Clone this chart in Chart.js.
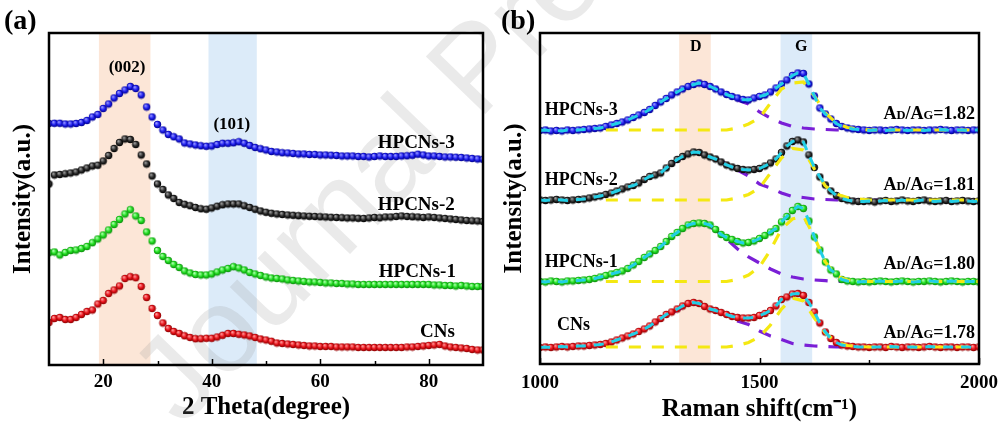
<!DOCTYPE html>
<html>
<head>
<meta charset="utf-8">
<script src="https://cdn.jsdelivr.net/npm/chart.js@4.4.1/dist/chart.umd.min.js"></script>
<style>
  body { margin: 0; background: #fff; }
  #wrap { position: relative; width: 1004px; height: 428px; }
  canvas { position: absolute; top: 0; }
</style>
</head>
<body>
<div id="wrap">
  <canvas id="xrd" width="500" height="428" style="left:0"></canvas>
  <canvas id="raman" width="504" height="428" style="left:500px"></canvas>
</div>
<script>
// ---- XRD patterns, 2 theta 10..90 deg, offset intensities (a.u.) ----
const twoTheta = Array.from({length: 81}, (_, i) => 10 + i);

const xrdCNs = [42.5, 46.5, 47.5, 45.5, 45.5, 47.5, 50.5, 53.5, 55, 61,
  64.5, 71.5, 75, 79, 86.5, 88.3, 87.3, 78.5, 67.5, 56.5,
  49.5, 42, 36.5, 33.5, 31.5, 29.2, 27.5, 26.3, 26.3, 26.7,
  26.7, 28, 29.7, 31.5, 31.5, 30.7, 30, 29, 27.5, 26,
  25, 23.7, 22, 21.5, 21, 20.5, 20, 19.5, 19, 19,
  18.5, 18.5, 18.5, 18, 18, 18, 18, 17.5, 17.5, 17.5,
  17.5, 17.5, 17.5, 17.5, 17.5, 17.5, 18, 18, 18.5, 19,
  19.5, 20, 20.5, 19, 18, 17.5, 17, 16.5, 15.5, 15, 15];

const xrdHPCNs1 = [112.3, 113, 110, 112.5, 114.5, 115, 116.5, 118.5, 122.3, 126,
  130, 135, 140.5, 145.5, 151, 155.3, 149, 144.5, 133, 124,
  114.5, 108.5, 104.5, 100.5, 97.5, 94, 92, 90.5, 90, 90,
  91, 93, 95, 96.5, 98.3, 97, 95, 92.5, 91, 89.5,
  88, 87, 86.5, 86, 85, 84.5, 84, 83.5, 83, 83,
  82.5, 82, 82, 81.5, 81.5, 81, 81, 80.5, 80.5, 80.5,
  80.5, 80.5, 80.5, 80.5, 80.5, 80.5, 80.5, 80.5, 80.5, 80.5,
  80.5, 80, 80, 79.5, 79.5, 79, 79.5, 79, 78.5, 78.5, 78.5];

const xrdHPCNs2 = [181, 190, 190.5, 191.2, 192, 193, 195, 197, 199, 199.8,
  204, 209.5, 216.5, 222.5, 226, 225.5, 220.5, 210, 201, 189,
  181, 175.5, 170, 166.5, 162.5, 160.7, 159.3, 157.5, 156.2, 155.8,
  157, 158.8, 160.2, 161, 161, 161, 159.2, 157.5, 155.7, 154,
  152.7, 151.7, 151, 150.5, 150, 149.7, 149.3, 149, 148.7, 148.5,
  148.2, 148, 147.7, 147.5, 147.3, 147, 147, 146.7, 146.5, 147,
  147.5, 147.2, 148, 148, 148.5, 149, 148.5, 148.2, 148, 147.5,
  148, 147.5, 147, 146.5, 146, 145.5, 145, 144.5, 144.2, 144, 143.5];

const xrdHPCNs3 = [241.5, 241.7, 241.7, 241, 241, 241.5, 242.5, 244.5, 248, 250.5,
  256.5, 261, 267, 271.5, 275, 278.5, 276.5, 270, 258, 248,
  240.5, 235, 230.5, 228.2, 226, 222, 221, 220, 219.2, 218.7,
  219, 220.5, 221.7, 221.7, 222.2, 223.2, 221.7, 219.5, 217.5, 216.2,
  215, 213.5, 213, 212.2, 212, 211.5, 211, 211, 210.5, 210.5,
  210, 210, 209.8, 209.5, 209, 209, 209, 208.5, 208.5, 208,
  208.5, 209, 208.5, 208.5, 208.5, 209, 209.2, 209.8, 210.8, 210,
  209, 209, 208.5, 208, 208, 207.8, 207.5, 207, 206.5, 206, 205.7];

const xrdTicks = [20, 40, 60, 80];
const xrdMinorTicks = [30, 50, 70];

// ---- Raman spectra, 1000..2000 cm-1 ----
const ramanShift = Array.from({length: 81}, (_, i) => 1000 + i * 12.5);

const ramanCNs = [16.5, 17, 16.5, 17, 17.5, 17, 17.5, 18, 18,
  18.5, 19, 19.5, 20.5, 22, 24, 26, 28,
  30, 32.5, 35, 38, 42, 45.5, 49.5, 52, 55, 58, 60.5, 61.5,
  60.5, 57.5, 55, 53.5, 51.5, 49.5, 47.5, 46.5, 46, 46, 46.5, 48.5,
  50.5, 53.5, 58, 64.5, 67, 70, 70.5, 68.5, 61.5, 52, 41, 32, 25.5, 21.5, 19, 18, 17.5, 17,
  17, 16.5, 17, 17, 16.5, 17.5, 17, 16.5, 17, 17, 16.5, 17, 17.5, 17, 16.5, 17, 17, 16.5, 17, 17, 16.5, 17];

const ramanHPCNs1 = [82.5, 82, 83, 82.5, 82, 83, 83, 83.5, 84,
  84.5, 85.5, 87, 88.5, 90, 91.5, 93, 95.5,
  99, 102.5, 106.5, 110, 113.5, 117.5, 122.5, 127.5, 131.5, 135.5, 139, 140.5,
  141, 140.5, 139, 134.5, 129.5, 126.5, 124.5, 122.5, 121, 121.5, 123, 125.5,
  128.5, 132, 135.5, 142, 147.5, 153.5, 157.5, 155.5, 143, 127, 114, 102, 94, 90, 84.5, 83, 82.5, 82,
  82.5, 82, 82.5, 83, 82.5, 82, 82.5, 83, 82.5, 82, 82.5, 82.5, 83, 82.5, 82, 82.5, 83, 82.5, 82, 82.5, 82.5, 82];

const ramanHPCNs2 = [164, 163.5, 164, 164.5, 164, 163.5, 164, 164.5, 165,
  166, 167, 168, 169.5, 171, 173, 175, 177,
  178.5, 181, 184.5, 187.5, 189, 191, 196, 200.5, 204.5, 207.5, 210, 212,
  211.5, 209, 207, 205, 202, 199, 197, 195.5, 194.5, 194, 194.5, 195.5,
  198, 201, 205, 211.5, 218, 222.5, 224, 222, 209, 196.5, 187, 179, 173, 168.5, 165.5, 164, 163, 162.5,
  162.5, 163, 162, 163, 163.5, 162.5, 163, 164, 163, 162.5, 163.5, 164, 163, 162.5, 163, 163.5, 162.5, 163, 163.5, 163, 162.5, 163];

const ramanHPCNs3 = [233.5, 234, 233, 233.5, 233, 234, 233.5, 234, 234.5,
  235, 235.5, 236, 237.5, 239, 240.5, 242, 244,
  246.5, 249, 251.5, 254.5, 258.5, 262, 265.5, 269, 272, 275, 277.5, 279.5,
  281, 279.5, 277.5, 275, 272, 269.5, 267.5, 266, 264.5, 264, 266, 267.5,
  269, 272, 276, 280, 284, 288.5, 291, 290.5, 280, 268, 256, 250, 245, 240.5, 237.5, 236, 235, 234.5,
  234, 233.5, 234, 234, 233.5, 234, 234.5, 234, 233.5, 234, 234, 233.5, 234, 234, 234.5, 234, 233.5, 234, 234, 233.5, 234, 234];

// fitted D and G bands, 1150..2000 cm-1
const fitShift = Array.from({length: 35}, (_, i) => 1150 + i * 25);

const fitDCNs = [20.5, 24, 28, 32.5, 38, 44.5, 51, 56.5, 60.5,
  58, 53.5, 49, 43, 39.5, 33, 28, 24.5, 20.5, 19,
  18, 17.5, 17, 17, 17,
  17, 17, 17, 17, 17, 17, 17, 17, 17, 17, 17];
const fitGCNs = [17, 17, 17, 17, 17, 17, 17, 17, 17, 17, 17, 17,
  18.5, 21.5, 27, 39, 55, 66, 63, 46, 31, 22, 18.5, 17.5,
  17, 17, 17, 17, 17, 17, 17, 17, 17, 17, 17];

const fitDHPCNs1 = [89, 91.5, 96, 102.5, 110, 117.5, 127.5, 135.5, 140.5,
  140, 134, 125, 115, 107, 101, 95, 90, 87, 85,
  84, 83.3, 82.5, 82.5, 82.5,
  82.5, 82.5, 82.5, 82.5, 82.5, 82.5, 82.5, 82.5, 82.5, 82.5, 82.5];
const fitGHPCNs1 = [82.5, 82.5, 82.5, 82.5, 82.5, 82.5, 82.5, 82.5, 82.5, 82.5, 82.5, 82.5,
  84.5, 89, 97, 114, 135, 145, 148, 127, 102, 88, 84, 83,
  82.5, 82.5, 82.5, 82.5, 82.5, 82.5, 82.5, 82.5, 82.5, 82.5, 82.5];

const fitDHPCNs2 = [169.5, 173, 177, 181.5, 187, 192, 200, 207, 211.5,
  209.5, 205.5, 200, 194, 188, 180, 176, 171, 167.5, 166.5,
  165, 164.5, 164, 164, 164,
  164, 164, 164, 164, 164, 164, 164, 164, 164, 164, 164];
const fitGHPCNs2 = [164, 164, 164, 164, 164, 164, 164, 164, 164, 164, 164, 164,
  166, 169.5, 176, 191, 206, 215.5, 214, 195, 178, 170, 166.5, 165,
  164, 164, 164, 164, 164, 164, 164, 164, 164, 164, 164];

const fitDHPCNs3 = [237.5, 240.5, 244, 249, 254.5, 262, 269, 275, 279.5,
  279, 275, 269, 264, 260, 252, 246, 241, 237.5, 236,
  235, 234.5, 234, 234, 234,
  234, 234, 234, 234, 234, 234, 234, 234, 234, 234, 234];
const fitGHPCNs3 = [234, 234, 234, 234, 234, 234, 234, 234, 234, 234, 234, 234,
  236, 240, 246, 261, 275, 281, 282, 268, 251, 241, 236.5, 235,
  234, 234, 234, 234, 234, 234, 234, 234, 234, 234, 234];

const adRatios = ['1.78', '1.80', '1.81', '1.82'];
const ramanTicks = [1000, 1500, 2000];
const ramanMinorTicks = [1250, 1750];

// ---- styling ----
const FONT = '"Liberation Serif", "Times New Roman", serif';
const sampleNames = ['CNs', 'HPCNs-1', 'HPCNs-2', 'HPCNs-3'];
const ballColors = [
  ['#ff9a9a', '#e8121a', '#8c0000'],
  ['#b4ffb4', '#22e022', '#0a8a0a'],
  ['#a0a0a0', '#2c2c2c', '#000000'],
  ['#9a9aff', '#1f1ff0', '#00008c']
];
const YELLOW = '#f4e812', PURPLE = '#7a1fd6', CYAN = '#22cfe6';

// shaded sphere used as the point marker
function ball([hi, mid, lo], r) {
  const c = document.createElement('canvas');
  const s = Math.ceil(r * 2) + 1;
  c.width = c.height = s;
  const g = c.getContext('2d');
  const m = s / 2;
  const grad = g.createRadialGradient(m - r * 0.35, m - r * 0.4, r * 0.1, m, m, r);
  grad.addColorStop(0, hi);
  grad.addColorStop(0.55, mid);
  grad.addColorStop(1, lo);
  g.fillStyle = grad;
  g.beginPath();
  g.arc(m, m, r, 0, Math.PI * 2);
  g.fill();
  return c;
}

function toPoints(xs, ys) {
  return xs.map((x, i) => ({x, y: ys[i]}));
}

// faint diagonal "Journal Pre-proof" stamp across the page; each canvas
// paints its own part of it, shifted by the canvas' left offset
function drawStamp(ctx, offsetX) {
  ctx.save();
  ctx.translate(182 - offsetX, 428);
  ctx.rotate(-46 * Math.PI / 180);
  ctx.font = '120px "Liberation Sans", Arial, sans-serif';
  ctx.fillStyle = 'rgba(150,150,150,0.2)';
  ctx.textAlign = 'left';
  ctx.textBaseline = 'alphabetic';
  ctx.fillText('Journal Pre-proof', 0, 0);
  ctx.restore();
}

// frame, inward ticks, shaded bands and annotations
function panelPlugin(cfg) {
  return {
    id: 'panel',
    beforeDatasetsDraw(chart) {
      const {ctx, chartArea: a, scales: {x}} = chart;
      ctx.save();
      cfg.bands.forEach(b => {
        const l = x.getPixelForValue(b.from), r = x.getPixelForValue(b.to);
        ctx.fillStyle = b.color;
        ctx.fillRect(l, a.top, r - l, a.bottom - a.top);
      });
      ctx.restore();
      drawStamp(ctx, cfg.offsetX);
    },
    afterDraw(chart) {
      const {ctx, chartArea: a, scales: {x, y}} = chart;
      ctx.save();
      ctx.strokeStyle = '#000';
      ctx.lineWidth = 1.5;
      const tick = (v, len) => {
        const px = Math.round(x.getPixelForValue(v)) + 0.5;
        ctx.beginPath();
        ctx.moveTo(px, a.bottom);
        ctx.lineTo(px, a.bottom - len);
        ctx.stroke();
      };
      cfg.major.forEach(v => tick(v, 6));
      cfg.minor.forEach(v => tick(v, 4));
      ctx.lineWidth = 2.5;
      ctx.strokeRect(a.left, a.top, a.right - a.left, a.bottom - a.top);

      ctx.fillStyle = '#000';
      ctx.textBaseline = 'middle';
      cfg.texts.forEach(t => {
        ctx.font = 'bold ' + t.size + 'px ' + FONT;
        ctx.textAlign = t.align;
        ctx.fillText(t.text, x.getPixelForValue(t.x), y.getPixelForValue(t.y));
      });
      (cfg.ratios || []).forEach(t => drawRatio(ctx, t.value, x.getPixelForValue(t.x), y.getPixelForValue(t.y)));

      // axis tick labels
      ctx.font = 'bold 19px ' + FONT;
      ctx.textAlign = 'center';
      ctx.textBaseline = 'middle';
      cfg.major.forEach(v => ctx.fillText(String(v), x.getPixelForValue(v), a.bottom + cfg.labelGap));

      ctx.font = 'bold 28px ' + FONT;
      ctx.textAlign = 'left';
      ctx.textBaseline = 'alphabetic';
      ctx.fillText(cfg.letter, cfg.letterX, 29);
      ctx.restore();
    }
  };
}

// "AD/AG=x.xx" with small-capital subscripts, right aligned at px
function drawRatio(ctx, value, px, py) {
  const big = 'bold 18px ' + FONT, small = 'bold 12.5px ' + FONT;
  const parts = [['A', big], ['D', small], ['/A', big], ['G', small], ['=' + value, big]];
  let w = 0;
  parts.forEach(([s, f]) => { ctx.font = f; w += ctx.measureText(s).width; });
  let cx = px - w;
  ctx.textAlign = 'left';
  ctx.textBaseline = 'alphabetic';
  parts.forEach(([s, f]) => {
    ctx.font = f;
    ctx.fillText(s, cx, py + 6);
    cx += ctx.measureText(s).width;
  });
  ctx.textBaseline = 'middle';
}

function xScale(min, max, ticks, title, titlePad, height) {
  return {
    type: 'linear', min, max,
    afterBuildTicks: s => { s.ticks = ticks.map(v => ({value: v})); },
    afterFit: s => { s.height = height; },
    grid: {display: false, drawTicks: false},
    border: {display: false},
    ticks: {display: false},
    title: {display: true, text: title, color: '#000', padding: {top: 0, bottom: titlePad},
      font: {family: FONT, size: 25, weight: 'bold'}}
  };
}

function yScale(max, width, titlePad) {
  return {
    type: 'linear', min: 0, max,
    afterFit: s => { s.width = width; },
    grid: {display: false, drawTicks: false},
    border: {display: false},
    ticks: {display: false},
    title: {display: true, text: 'Intensity(a.u.)', color: '#000', padding: {top: titlePad, bottom: 0},
      font: {family: FONT, size: 25, weight: 'bold'}}
  };
}

const baseOptions = {
  responsive: false,
  animation: false,
  devicePixelRatio: 1,
  plugins: {legend: {display: false}, tooltip: {enabled: false}}
};

// ---- (a) XRD ----
const xrdSeries = [xrdCNs, xrdHPCNs1, xrdHPCNs2, xrdHPCNs3];
new Chart(document.getElementById('xrd'), {
  type: 'scatter',
  data: {
    datasets: xrdSeries.map((ys, i) => ({
      label: sampleNames[i],
      data: toPoints(twoTheta, ys),
      pointStyle: ball(ballColors[i], 3.7),
      pointRadius: 3.7
    }))
  },
  options: {
    ...baseOptions,
    layout: {padding: {top: 33, right: 17, bottom: 0, left: 0}},
    scales: {
      x: xScale(10, 90, xrdTicks, '2 Theta(degree)', 5, 63),
      y: yScale(332, 49, 9)
    }
  },
  plugins: [panelPlugin({
    letter: '(a)', letterX: 4, labelGap: 17, offsetX: 0,
    bands: [{from: 19.2, to: 28.7, color: '#fce6d7'}, {from: 39.4, to: 48.3, color: '#dcebf9'}],
    major: xrdTicks, minor: xrdMinorTicks,
    texts: [
      {text: '(002)', x: 24.4, y: 297, align: 'center', size: 17},
      {text: '(101)', x: 43.7, y: 240, align: 'center', size: 17},
      {text: 'HPCNs-3', x: 84.8, y: 222, align: 'right', size: 19},
      {text: 'HPCNs-2', x: 84.8, y: 160, align: 'right', size: 19},
      {text: 'HPCNs-1', x: 85, y: 93, align: 'right', size: 19},
      {text: 'CNs', x: 84.8, y: 33, align: 'right', size: 19}
    ]
  })]
});

// ---- (b) Raman ----
const ramanSeries = [ramanCNs, ramanHPCNs1, ramanHPCNs2, ramanHPCNs3];
const fitD = [fitDCNs, fitDHPCNs1, fitDHPCNs2, fitDHPCNs3];
const fitG = [fitGCNs, fitGHPCNs1, fitGHPCNs2, fitGHPCNs3];

const ramanSets = [];
ramanSeries.forEach((ys, i) => {
  ramanSets.push({label: sampleNames[i] + ' fit', data: toPoints(ramanShift, ys), showLine: true,
    borderColor: CYAN, borderWidth: 3, borderDash: [10, 8], pointRadius: 0, order: 1});
  ramanSets.push({label: sampleNames[i] + ' G', data: toPoints(fitShift, fitG[i]), showLine: true,
    borderColor: YELLOW, borderWidth: 3.2, borderDash: [12, 11], pointRadius: 0, order: 2});
  ramanSets.push({label: sampleNames[i], data: toPoints(ramanShift, ys),
    pointStyle: ball(ballColors[i], 3.7), pointRadius: 3.7, order: 3});
  ramanSets.push({label: sampleNames[i] + ' D', data: toPoints(fitShift, fitD[i]), showLine: true,
    borderColor: PURPLE, borderWidth: 3.2, borderDash: [13, 11], pointRadius: 0, order: 4});
});

new Chart(document.getElementById('raman'), {
  type: 'scatter',
  data: {datasets: ramanSets},
  options: {
    ...baseOptions,
    layout: {padding: {top: 33, right: 25, bottom: 0, left: 0}},
    scales: {
      x: xScale(1000, 2000, ramanTicks, 'Raman shift(cm\u207B\u00B9)', 3, 64),
      y: yScale(331, 40, 0)
    }
  },
  plugins: [panelPlugin({
    letter: '(b)', letterX: 1, labelGap: 19, offsetX: 500,
    bands: [{from: 1317, to: 1389, color: '#fce6d7'}, {from: 1548, to: 1620, color: '#dcebf9'}],
    major: ramanTicks, minor: ramanMinorTicks,
    texts: [
      {text: 'D', x: 1355, y: 317, align: 'center', size: 16},
      {text: 'G', x: 1595, y: 317, align: 'center', size: 16},
      {text: 'HPCNs-3', x: 1011, y: 254, align: 'left', size: 18},
      {text: 'HPCNs-2', x: 1011, y: 184, align: 'left', size: 18},
      {text: 'HPCNs-1', x: 1011, y: 102, align: 'left', size: 18},
      {text: 'CNs', x: 1039, y: 39, align: 'left', size: 18}
    ],
    ratios: [
      {value: adRatios[0], x: 1991, y: 32},
      {value: adRatios[1], x: 1991, y: 101},
      {value: adRatios[2], x: 1991, y: 180},
      {value: adRatios[3], x: 1991, y: 251}
    ]
  })]
});
</script>
</body>
</html>
